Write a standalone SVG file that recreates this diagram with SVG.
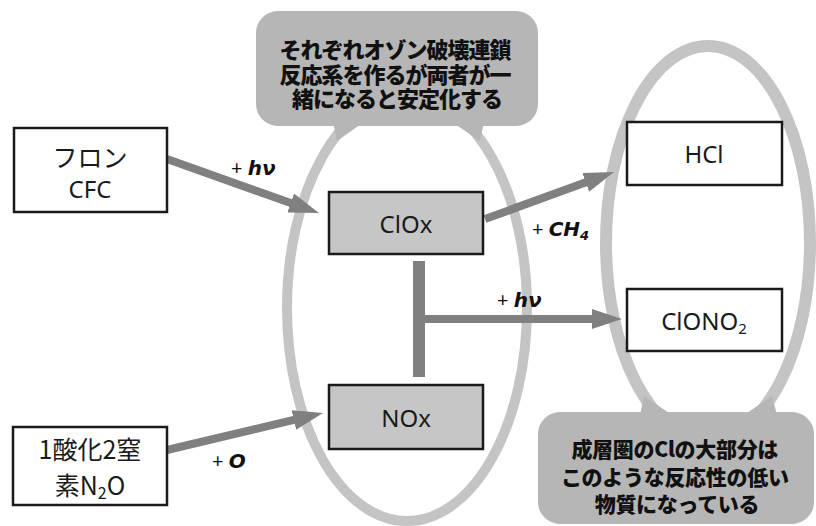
<svg xmlns="http://www.w3.org/2000/svg" width="816" height="526" viewBox="0 0 816 526">
<defs>
<style>
.ring{fill:none;stroke:#c4c4c4}
.callout{fill:#b6b6b6}
.box{fill:#ffffff;stroke:#1a1a1a;stroke-width:2.5}
.gbox{fill:#c6c6c6;stroke:#1a1a1a;stroke-width:2.5}
.arrow{stroke:#808080;stroke-width:8;fill:none}
.bar{stroke:#808080;stroke-width:12;fill:none}
.ctext{font-family:"Noto Sans CJK JP","Noto Sans",sans-serif;font-weight:900;fill:#111;text-anchor:middle}
.ntext{font-family:"Noto Sans","Noto Sans CJK JP",sans-serif;font-size:24px;fill:#1a1a1a;text-anchor:middle}
.jtext{font-family:"Noto Sans CJK JP","Noto Sans",sans-serif;font-size:25px;fill:#1a1a1a;text-anchor:middle}
.lbl{font-family:"Noto Sans",sans-serif;font-size:20px;fill:#111}
.bi{font-family:"DejaVu Sans",sans-serif;font-weight:bold;font-style:italic}
</style>
<marker id="head" markerUnits="userSpaceOnUse" markerWidth="30" markerHeight="20" refX="12" refY="10" orient="auto">
<path d="M0,0 L30,10 L0,20 Z" fill="#808080"/>
</marker>
</defs>
<g id="ellipse-left">
<ellipse class="ring" cx="407" cy="308" rx="120" ry="213" stroke-width="10"/>
</g>
<g id="ellipse-right">
<ellipse class="ring" cx="708" cy="243" rx="102" ry="197" stroke-width="12"/>
</g>
<g id="callout-top">
<rect class="callout" x="256" y="11" width="282" height="115" rx="22"/>
<polygon class="callout" points="333,122 364,122 337,141"/>
<polygon class="callout" points="452,122 484,122 480,141"/>
<text class="ctext" font-size="22" letter-spacing="-1">
<tspan x="397" y="58">それぞれオゾン破壊連鎖</tspan>
<tspan x="397" y="82.5">反応系を作るが両者が一</tspan>
<tspan x="397" y="107">緒になると安定化する</tspan>
</text>
</g>
<g id="callout-bottom">
<rect class="callout" x="538" y="412" width="276" height="112" rx="22"/>
<polygon class="callout" points="640,415 672,415 644,396"/>
<polygon class="callout" points="744,415 777,415 772,396"/>
<text class="ctext" font-size="21" letter-spacing="-0.3">
<tspan x="677" y="457">成層圏のClの大部分は</tspan>
<tspan x="677" y="485">このような反応性の低い</tspan>
<tspan x="677" y="512">物質になっている</tspan>
</text>
</g>
<g id="connectors">
<line class="arrow" x1="167" y1="159" x2="302" y2="207" marker-end="url(#head)"/>
<line class="arrow" x1="485" y1="219" x2="597" y2="178.2" marker-end="url(#head)"/>
<line class="bar" x1="419" y1="261" x2="419" y2="377"/>
<line class="arrow" x1="419" y1="319" x2="604" y2="319" marker-end="url(#head)"/>
<line class="arrow" x1="167" y1="450" x2="305.5" y2="417.2" marker-end="url(#head)"/>
<text class="lbl" x="231" y="175">+ <tspan class="bi">hν</tspan></text>
<text class="lbl" x="532" y="236">+ <tspan class="bi">CH</tspan><tspan class="bi" font-size="13" dy="4">4</tspan></text>
<text class="lbl" x="497" y="307">+ <tspan class="bi">hν</tspan></text>
<text class="lbl" x="212" y="468">+ <tspan class="bi">O</tspan></text>
</g>
<g id="node-cfc">
<rect class="box" x="14" y="128" width="153" height="84"/>
<text class="jtext" x="90" y="167">フロン</text>
<text class="ntext" x="90" y="198">CFC</text>
</g>
<g id="node-n2o">
<rect class="box" x="13" y="427" width="154" height="78"/>
<text class="jtext" x="90" y="459" font-size="26">1酸化2窒</text>
<text class="jtext" x="90" y="495" font-size="26">素N<tspan font-size="16" dy="4">2</tspan><tspan dy="-4">O</tspan></text>
</g>
<g id="node-clox">
<rect class="gbox" x="329" y="192" width="154" height="62"/>
<text class="ntext" x="406" y="233">ClOx</text>
</g>
<g id="node-nox">
<rect class="gbox" x="329" y="385" width="154" height="64"/>
<text class="ntext" x="406" y="427">NOx</text>
</g>
<g id="node-hcl">
<rect class="box" x="627" y="122" width="155" height="63"/>
<text class="ntext" x="704" y="163">HCl</text>
</g>
<g id="node-clono2">
<rect class="box" x="627" y="289" width="155" height="62"/>
<text class="ntext" x="704" y="330">ClONO<tspan font-size="15" dy="4">2</tspan></text>
</g>
</svg>
